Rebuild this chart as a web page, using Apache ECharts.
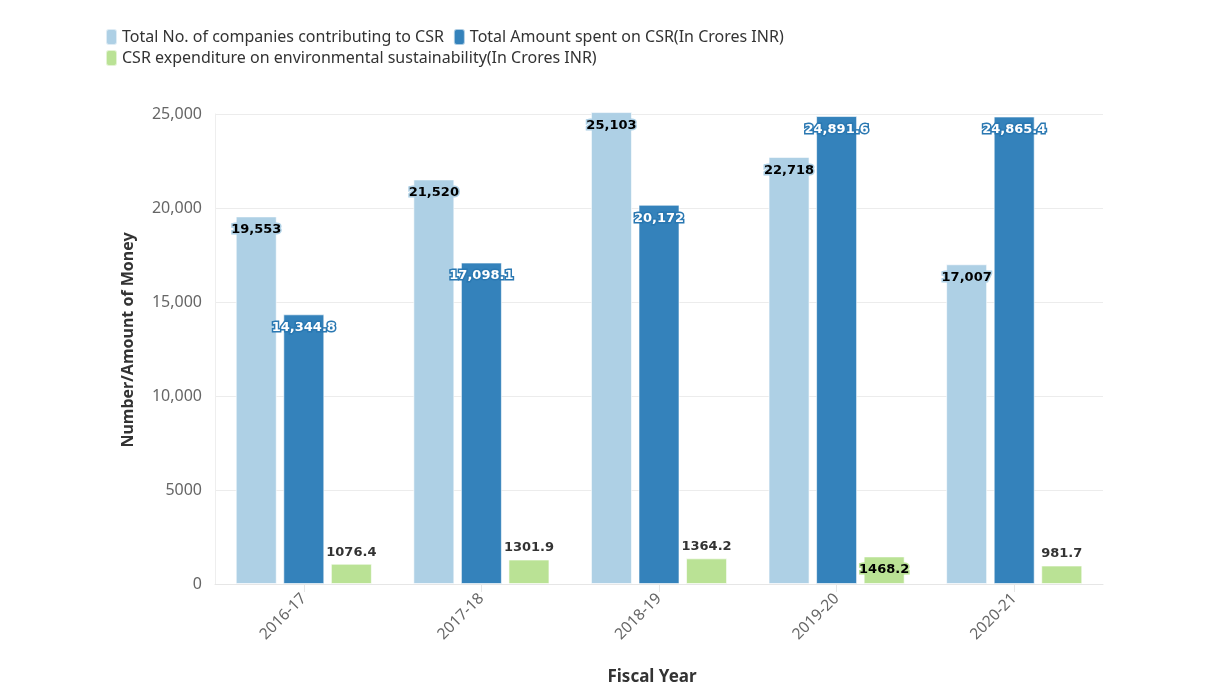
<!DOCTYPE html>
<html>
<head>
<meta charset="utf-8">
<script src="https://cdn.jsdelivr.net/npm/echarts@6/dist/echarts.min.js"></script>
<style>html,body{margin:0;padding:0;background:#fff;}#chart{width:1212px;height:695px;}</style>
</head>
<body>
<div id="chart"></div>
<script>
const categories = ['2016-17', '2017-18', '2018-19', '2019-20', '2020-21'];
const companies = [19553, 21520, 25103, 22718, 17007];
const amountSpent = [14344.8, 17098.1, 20172, 24891.6, 24865.4];
const envSpending = [1076.4, 1301.9, 1364.2, 1468.2, 981.7];
const seriesNames = [
  'Total No. of companies contributing to CSR',
  'Total Amount spent on CSR(In Crores INR)',
  'CSR expenditure on environmental sustainability(In Crores INR)'
];
const yTicks = { min: 0, max: 25000, interval: 5000 };

const FONT = 'Noto Sans';
const LABEL_FONT = 'DejaVu Sans';
const cLight = '#aed0e5', cDark = '#3482bb', cGreen = '#bae295';

function fmtComma(v) { return Number(v).toLocaleString('en-US'); }
function fmtAxis(v) { return v >= 10000 ? fmtComma(v) : String(v); }

const chart = echarts.init(document.getElementById('chart'), null, { renderer: 'canvas' });

const baseBar = {
  type: 'bar',
  barWidth: 41,
  barGap: '16%',
  clip: false,
  itemStyle: { borderColor: 'rgba(255,255,255,0.6)', borderWidth: 1 }
};

const greenData = envSpending.map(function (v, i) {
  if (i === 3) {
    return { value: v, label: { position: 'insideTop', distance: 7, color: '#000', textBorderColor: cGreen, textBorderWidth: 3 } };
  }
  return v;
});

const legendText = { fontFamily: FONT, fontSize: 16, color: '#333' };

chart.setOption({
  animation: false,
  backgroundColor: '#fff',
  legend: [
    {
      data: [seriesNames[0], seriesNames[1]],
      left: 100, top: 28, icon: 'roundRect', itemWidth: 11, itemHeight: 16, itemGap: 9,
      textStyle: legendText, padding: [0, 5]
    },
    {
      data: [seriesNames[2]],
      left: 100, top: 49, icon: 'roundRect', itemWidth: 11, itemHeight: 16, itemGap: 9,
      textStyle: legendText, padding: [0, 5]
    }
  ],
  grid: { left: 215, right: 109, top: 114, bottom: 111, containLabel: false },
  xAxis: {
    type: 'category',
    data: categories,
    name: 'Fiscal Year',
    nameLocation: 'middle',
    nameGap: 85,
    nameTextStyle: { fontFamily: FONT, fontSize: 17, fontWeight: 'bold', color: '#333', padding: [0, 14, 0, 0] },
    axisLine: { show: true, lineStyle: { color: '#e6e6e6' } },
    axisTick: { show: true, alignWithLabel: true, length: 8, lineStyle: { color: '#e6e6e6' } },
    axisLabel: { rotate: 45, fontFamily: FONT, fontSize: 15.5, color: '#666', margin: 12 }
  },
  yAxis: {
    type: 'value',
    min: yTicks.min, max: yTicks.max, interval: yTicks.interval,
    name: 'Number/Amount of Money',
    nameLocation: 'middle',
    nameGap: 79,
    nameTextStyle: { fontFamily: FONT, fontSize: 16, fontWeight: 'bold', color: '#333', padding: [0, 0, 0, 18] },
    axisLine: { show: true, lineStyle: { color: '#eeeeee' } },
    axisTick: { show: false },
    axisLabel: { formatter: fmtAxis, fontFamily: FONT, fontSize: 16, color: '#666', margin: 13 },
    splitLine: { show: true, lineStyle: { color: '#ececec', width: 1 } }
  },
  series: [
    Object.assign({}, baseBar, {
      name: seriesNames[0], data: companies, color: cLight,
      label: { show: true, position: 'insideTop', distance: 7, formatter: function (p) { return fmtComma(p.value); },
        fontFamily: LABEL_FONT, fontSize: 13, fontWeight: 'bold', color: '#000', textBorderColor: cLight, textBorderWidth: 3 }
    }),
    Object.assign({}, baseBar, {
      name: seriesNames[1], data: amountSpent, color: cDark,
      label: { show: true, position: 'insideTop', distance: 7, formatter: function (p) { return fmtComma(p.value); },
        fontFamily: LABEL_FONT, fontSize: 13, fontWeight: 'bold', color: '#fff', textBorderColor: '#2a78b2', textBorderWidth: 3 }
    }),
    Object.assign({}, baseBar, {
      name: seriesNames[2], data: greenData, color: cGreen,
      label: { show: true, position: 'top', distance: 5, formatter: function (p) { return String(p.value); },
        fontFamily: LABEL_FONT, fontSize: 13, fontWeight: 'bold', color: '#333', textBorderColor: '#fff', textBorderWidth: 2 }
    })
  ]
});
</script>
</body>
</html>
